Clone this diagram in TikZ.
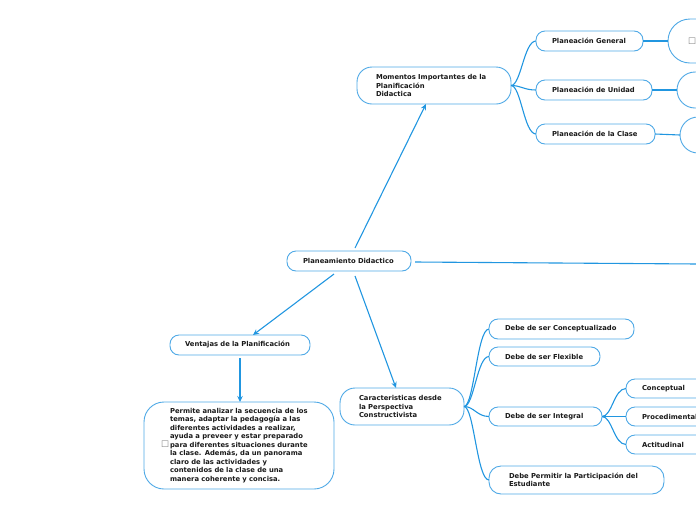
\documentclass[tikz,border=0pt]{standalone}
\usepackage{fontspec}
\setmainfont{DejaVu Sans}
\usetikzlibrary{arrows.meta}
\definecolor{lineblue}{HTML}{2196E0}
\definecolor{boxblue}{HTML}{4FA9E6}
\definecolor{txt}{HTML}{1A1A1A}
\tikzset{
  box/.style={draw=boxblue, line width=0.9pt, rounded corners=9pt, fill=white,
    anchor=west, align=left, outer sep=0pt, inner ysep=0pt, text=txt,
    font=\fontsize{6.8}{8.5}\selectfont\bfseries},
  bigbox/.style={box, text width=40pt, inner xsep=22pt},
  conn/.style={draw=lineblue, line width=1.1pt},
  arr/.style={conn, -{Stealth[length=6pt,width=5.5pt]}},
  curv/.style={conn, out=0, in=180, out distance=10pt, in distance=12pt},
}
\newcommand{\chk}{{\color{gray}\fontsize{9}{9}\selectfont\mdseries ☐}}
\begin{document}
\begin{tikzpicture}[x=1pt,y=-1pt]
\useasboundingbox (0,0) rectangle (696,520);
\clip (0,0) rectangle (696,520);

% central
\node[box, text width=92pt, inner xsep=16pt, minimum height=20pt] (plan) at (287,261) {Planeamiento Didactico};
\coordinate (edge) at (698,264);

% top branch
\node[box, text width=116pt, inner xsep=19pt, minimum height=37pt, rounded corners=15pt] (mom) at (357,85.5)
  {Momentos Importantes de la\\Planificación\\Didactica};
\node[box, text width=75pt, inner xsep=16pt, minimum height=20pt] (pg) at (536,41) {Planeación General};
\node[box, text width=84pt, inner xsep=16pt, minimum height=20pt] (pu) at (536,90) {Planeación de Unidad};
\node[box, text width=87pt, inner xsep=16pt, minimum height=20pt] (pc) at (536,134) {Planeación de la Clase};
\node[bigbox, minimum height=44pt, rounded corners=22pt, inner xsep=20pt] (b1) at (668,41) {\chk};
\node[bigbox, minimum height=36pt, rounded corners=18pt] (b2) at (677,90) {};
\node[bigbox, minimum height=36pt, rounded corners=18pt] (b3) at (680,135) {};

% left branch
\node[box, text width=156pt, inner xsep=17pt, minimum height=87pt, rounded corners=20pt] (perm) at (144,445.5)
  {\chk\hspace{1pt}\parbox[c]{146pt}{Permite analizar la secuencia de los\\
temas, adaptar la pedagogía a las\\
diferentes actividades a realizar,\\
ayuda a preveer y estar preparado\\
para diferentes situaciones durante\\
la clase. Además, da un panorama\\
claro de las actividades y\\
contenidos de la clase de una\\
manera coherente y concisa.}};
\node[box, text width=110pt, inner xsep=15pt, minimum height=20pt] (vent) at (170,345) {Ventajas de la Planificación};

% bottom branch
\node[box, text width=86pt, inner xsep=19pt, minimum height=37pt, rounded corners=15pt] (car) at (340,406.5)
  {Caracteristicas desde\\la Perspectiva\\Constructivista};
\node[box, text width=113pt, inner xsep=16pt, minimum height=20pt] (dc) at (489,329) {Debe de ser Conceptualizado};
\node[box, text width=79pt, inner xsep=16pt, minimum height=19pt] (df) at (489,356.5) {Debe de ser Flexible};
\node[box, text width=81pt, inner xsep=16pt, minimum height=19pt] (di) at (489,416.5) {Debe de ser Integral};
\node[box, text width=135pt, inner xsep=20pt, minimum height=28pt, rounded corners=12pt] (dp) at (489,480)
  {Debe Permitir la Participación del\\Estudiante};
\node[box, text width=80pt, inner xsep=16pt, minimum height=19pt] (con) at (626,388.5) {Conceptual};
\node[box, text width=80pt, inner xsep=16pt, minimum height=19pt] (pro) at (626,416.5) {Procedimental};
\node[box, text width=80pt, inner xsep=16pt, minimum height=19pt] (act) at (626,444.5) {Actitudinal};

% arrows from central node
\draw[arr] ([xshift=6pt,yshift=3pt]plan.north) -- ([xshift=-8pt]mom.south);
\draw[arr] ([xshift=-15pt,yshift=-3pt]plan.south) -- ([xshift=13pt]vent.north);
\draw[arr] ([xshift=6pt,yshift=-5pt]plan.south) -- ([xshift=-6pt]car.north);
\draw[arr] ([yshift=-3pt]vent.south) -- (perm.north -| vent.south);
\draw[conn] ([xshift=4pt,yshift=-1pt]plan.east) -- (edge);

% curved connectors
\draw[curv] (mom.east) to (pg.west);
\draw[curv] (mom.east) to (pu.west);
\draw[curv] (mom.east) to (pc.west);
\draw[conn] (pg.east) -- (b1.west);
\draw[conn] (pu.east) -- (b2.west);
\draw[conn] (pc.east) -- (b3.west);

\draw[curv] (car.east) to (dc.west);
\draw[curv] (car.east) to (df.west);
\draw[curv] (car.east) to (di.west);
\draw[curv] (car.east) to (dp.west);

\draw[curv] (di.east) to (con.west);
\draw[curv] (di.east) to (pro.west);
\draw[curv] (di.east) to (act.west);
\end{tikzpicture}
\end{document}
